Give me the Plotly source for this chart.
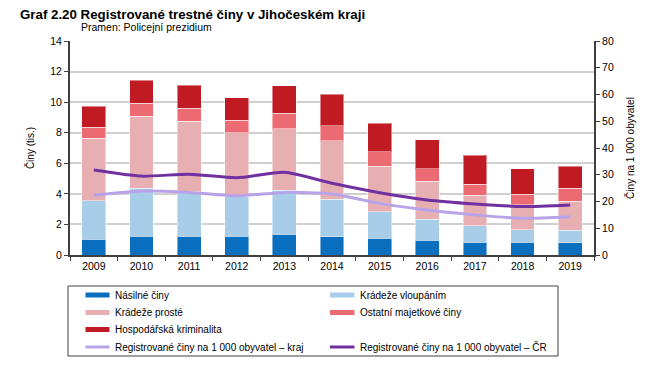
import plotly.graph_objects as go

years = ["2009", "2010", "2011", "2012", "2013", "2014", "2015", "2016", "2017", "2018", "2019"]
nasilne = [1.03, 1.24, 1.24, 1.24, 1.35, 1.18, 1.11, 0.98, 0.85, 0.85, 0.81]
vloupani = [2.52, 3.12, 2.90, 2.62, 2.88, 2.46, 1.72, 1.35, 1.07, 0.81, 0.80]
proste = [4.10, 4.73, 4.60, 4.14, 4.03, 3.82, 2.99, 2.49, 2.00, 1.63, 1.90]
ostatni = [0.72, 0.85, 0.85, 0.83, 1.01, 0.98, 0.92, 0.83, 0.72, 0.70, 0.87]
hospodarska = [1.35, 1.48, 1.53, 1.46, 1.80, 2.09, 1.89, 1.89, 1.88, 1.66, 1.44]
kraj_na_1000 = [22.3, 23.9, 23.4, 22.1, 23.4, 22.8, 19.3, 16.8, 15.0, 13.7, 14.3]
cr_na_1000 = [31.8, 29.5, 30.2, 28.9, 30.9, 26.8, 23.3, 20.6, 19.1, 18.1, 18.7]

bar_series = [
    ("Násilné činy", nasilne, "#0A6FBE"),
    ("Krádeže vloupáním", vloupani, "#A7CDE8"),
    ("Krádeže prosté", proste, "#E8AFB3"),
    ("Ostatní majetkové činy", ostatni, "#EC6A71"),
    ("Hospodářská kriminalita", hospodarska, "#C01A23"),
]
line_series = [
    ("Registrované činy na 1 000 obyvatel – kraj", kraj_na_1000, "#B9A3E8"),
    ("Registrované činy na 1 000 obyvatel – ČR", cr_na_1000, "#7030A0"),
]

FONT = "Arial, 'Liberation Sans', sans-serif"
OFF = 8  # page body margin
W, H = 668 - OFF, 371 - OFF
ML, MR, MT, MB = 70 - OFF, 74, 41 - OFF, 116
PW, PH = W - ML - MR, H - MT - MB


def px(x):
    return (x - OFF - ML) / PW


def py(y):
    return (H - MB - (y - OFF)) / PH


fig = go.Figure()

for name, vals, color in bar_series:
    fig.add_trace(go.Bar(
        x=years, y=vals, name=name, marker_color=color,
        marker_line=dict(color="rgba(255,255,255,0.45)", width=1),
        showlegend=False, yaxis="y",
    ))

for name, vals, color in line_series:
    fig.add_trace(go.Scatter(
        x=years, y=vals, name=name, mode="lines", yaxis="y2",
        line=dict(color=color, width=3, shape="spline", smoothing=0.6),
        showlegend=False,
    ))

# manual legend (two columns, boxed)
shapes = [dict(type="rect", xref="paper", yref="paper",
               x0=px(68), x1=px(558), y0=py(286), y1=py(356),
               line=dict(color="#404040", width=1), fillcolor="rgba(0,0,0,0)", layer="above")]
annotations = []
slots = [(0, 0), (0, 1), (1, 0), (1, 1), (2, 0), (3, 0), (3, 1)]
row_y = [295, 312.5, 329.5, 347]
col_x = [(85.5, 109.5, 114), (330, 354.5, 359)]
entries = [(n, c, 5) for n, _, c in bar_series] + [(n, c, 3) for n, _, c in line_series]
for (r, c), (name, color, w) in zip(slots, entries):
    x0, x1, xt = col_x[c]
    shapes.append(dict(type="line", xref="paper", yref="paper",
                       x0=px(x0), x1=px(x1), y0=py(row_y[r]), y1=py(row_y[r]),
                       line=dict(color=color, width=w)))
    annotations.append(dict(text=name, xref="paper", yref="paper",
                            x=px(xt), y=py(row_y[r]), xanchor="left", yanchor="middle",
                            showarrow=False, font=dict(size=10), borderpad=0))

annotations += [
    dict(text="<b>Graf 2.20 Registrované trestné činy v Jihočeském kraji</b>",
         xref="paper", yref="paper", x=px(19), y=py(14.5), xanchor="left", yanchor="middle",
         showarrow=False, font=dict(size=13.3), borderpad=0),
    dict(text="Pramen: Policejní prezidium",
         xref="paper", yref="paper", x=px(80), y=py(27), xanchor="left", yanchor="middle",
         showarrow=False, font=dict(size=10.5), borderpad=0),
]

fig.update_layout(
    width=W, height=H,
    margin=dict(l=ML, r=MR, t=MT, b=MB),
    paper_bgcolor="white", plot_bgcolor="white",
    barmode="stack", bargap=0.5,
    font=dict(family=FONT, size=10.5, color="#000000"),
    showlegend=False,
    xaxis=dict(
        type="category", showline=True, linecolor="#404040", linewidth=2,
        ticks="outside", tickson="boundaries", ticklen=4, tickcolor="#404040",
        showgrid=False, tickfont=dict(size=10.5),
    ),
    yaxis=dict(
        range=[0, 14], dtick=2, showline=True, linecolor="#404040", linewidth=2,
        ticks="outside", ticklen=4, tickcolor="#404040",
        gridcolor="#D0D0D0", gridwidth=1.5, zeroline=False,
        title=dict(text="Činy (tis.)", font=dict(size=10), standoff=14),
    ),
    yaxis2=dict(
        range=[0, 80], dtick=10, overlaying="y", side="right",
        showline=True, linecolor="#404040", linewidth=2,
        ticks="outside", ticklen=4, tickcolor="#404040", showgrid=False, zeroline=False,
        title=dict(text="Činy na 1 000 obyvatel", font=dict(size=10), standoff=14),
    ),
    shapes=shapes,
    annotations=annotations,
)

fig.write_html("out.html")
